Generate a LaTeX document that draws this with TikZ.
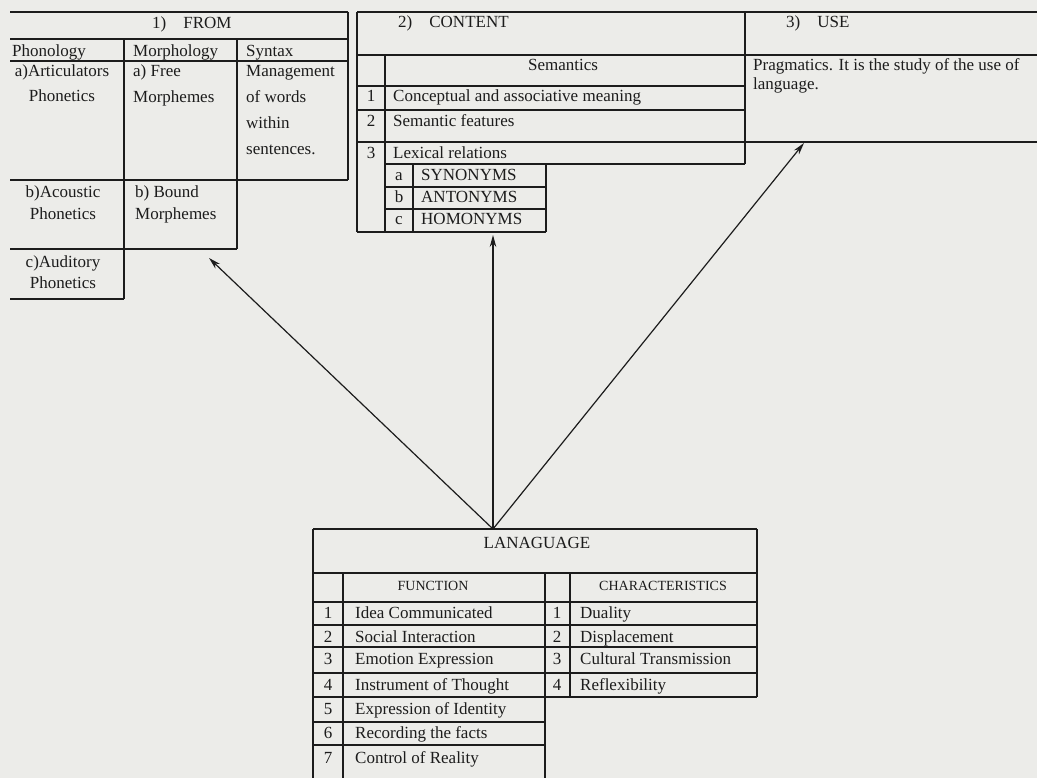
\documentclass[tikz,border=0pt]{standalone}
\usepackage{fontspec}
\setmainfont{Liberation Serif}
\usetikzlibrary{arrows.meta}
\definecolor{paper}{RGB}{236,236,233}
\definecolor{ink}{RGB}{28,28,28}
\begin{document}
\begin{tikzpicture}[x=1pt,y=-1pt,
  rule/.style={draw=ink, line width=1.2pt},
  lsk/.style={font=\fontsize{17}{#1}\selectfont},
  lsk/.default=20,
  txt/.style={inner sep=0pt, anchor=base west, text=ink, lsk, align=left},
  ctxt/.style={inner sep=0pt, anchor=base, text=ink, lsk, align=center},
  small/.style={inner sep=0pt, anchor=base, text=ink, font=\fontsize{14}{16}\selectfont},
  link/.style={draw=ink, line width=1.2pt, -{Stealth[length=12pt,width=6.5pt]}},
]
\fill[paper] (0,0) rectangle (1037,778);
\useasboundingbox (0,0) rectangle (1037,778);

% ---------------- 1) FROM table ----------------
\draw[rule] (10,12) -- (348,12);
\draw[rule] (10,39) -- (348,39);
\draw[rule] (10,61) -- (348,61);
\draw[rule] (10,180) -- (348,180);
\draw[rule] (10,249) -- (237,249);
\draw[rule] (10,299) -- (124,299);
\draw[rule] (348,12) -- (348,180);
\draw[rule] (237,39) -- (237,249);
\draw[rule] (124,39) -- (124,299);

% (multi-line nodes: the base anchor is the baseline of the last line)
\node[txt] (fromT) at (152,29) {1)\quad FROM};
\node[txt] (phon) at (12,57) {Phonology};
\node[txt] (morph) at (133,57) {Morphology};
\node[txt] (synt) at (246,57) {Syntax};
\node[ctxt, lsk=25] (artic) at (62,102) {a)Articulators\\Phonetics};
\node[txt, lsk=26] (free) at (133,103) {a) Free\\Morphemes};
\node[txt, lsk=26] (manage) at (246,155) {Management\\of words\\within\\sentences.};
\node[ctxt, lsk=22] (acou) at (63,220) {b)Acoustic\\Phonetics};
\node[txt, lsk=22] (bound) at (135,220) {b) Bound\\Morphemes};
\node[ctxt, lsk=21] (audi) at (63,289) {c)Auditory\\Phonetics};

% ---------------- 2) CONTENT table ----------------
\draw[rule] (357,12) -- (1037,12);
\draw[rule] (357,55) -- (1037,55);
\draw[rule] (357,86) -- (745,86);
\draw[rule] (357,110) -- (745,110);
\draw[rule] (357,142) -- (1037,142);
\draw[rule] (385,164) -- (745,164);
\draw[rule] (357,12) -- (357,232);
\draw[rule] (745,12) -- (745,164);
\draw[rule] (385,55) -- (385,232);
\draw[rule] (413,164) -- (413,232);
\draw[rule] (546,164) -- (546,232);
\draw[rule] (385,187) -- (546,187);
\draw[rule] (385,209) -- (546,209);
\draw[rule] (357,232) -- (546,232);

\node[txt] (contT) at (398,28) {2)\quad CONTENT};
\node[ctxt] (sem) at (563,71) {Semantics};
\node[ctxt] (n1) at (371,102) {1};
\node[ctxt] (n2) at (371,127) {2};
\node[ctxt] (n3) at (371,159) {3};
\node[txt] (c1) at (393,102) {Conceptual and associative meaning};
\node[txt] (c2) at (393,127) {Semantic features};
\node[txt] (c3) at (393,159) {Lexical relations};
\node[ctxt] (la) at (399,181) {a};
\node[ctxt] (lb) at (399,203) {b};
\node[ctxt] (lc) at (399,225) {c};
\node[txt] (syn) at (421,181) {SYNONYMS};
\node[txt] (ant) at (421,203) {ANTONYMS};
\node[txt] (hom) at (421,225) {HOMONYMS};

% ---------------- 3) USE ----------------
\node[txt] (useT) at (786,28) {3)\quad USE};
\node[txt, lsk=19] (prag) at (753,90) {Pragmatics. It is the study of the use of\\language.};

% ---------------- LANAGUAGE table ----------------
\draw[rule] (313,529) -- (757,529);
\draw[rule] (313,529) -- (313,778);
\draw[rule] (757,529) -- (757,697);
\draw[rule] (313,573) -- (757,573);
\draw[rule] (343,573) -- (343,778);
\draw[rule] (545,573) -- (545,778);
\draw[rule] (570,573) -- (570,697);
\foreach \yy in {602,625,647,673,697} \draw[rule] (313,\yy) -- (757,\yy);
\foreach \yy in {722,745} \draw[rule] (313,\yy) -- (545,\yy);

\node[ctxt] (lang) at (537,548) {LANAGUAGE};
\node[small] (func) at (433,590) {FUNCTION};
\node[small] (chars) at (663,590) {CHARACTERISTICS};

\node[ctxt] (f1n) at (328,618) {1};
\node[ctxt] (f2n) at (328,642) {2};
\node[ctxt] (f3n) at (328,664) {3};
\node[ctxt] (f4n) at (328,690) {4};
\node[ctxt] (f5n) at (328,714) {5};
\node[ctxt] (f6n) at (328,738) {6};
\node[ctxt] (f7n) at (328,763) {7};
\node[txt] (f1) at (355,618) {Idea Communicated};
\node[txt] (f2) at (355,642) {Social Interaction};
\node[txt] (f3) at (355,664) {Emotion Expression};
\node[txt] (f4) at (355,690) {Instrument of Thought};
\node[txt] (f5) at (355,714) {Expression of Identity};
\node[txt] (f6) at (355,738) {Recording the facts};
\node[txt] (f7) at (355,763) {Control of Reality};

\node[ctxt] (k1n) at (557,618) {1};
\node[ctxt] (k2n) at (557,642) {2};
\node[ctxt] (k3n) at (557,664) {3};
\node[ctxt] (k4n) at (557,690) {4};
\node[txt] (k1) at (580,618) {Duality};
\node[txt] (k2) at (580,642) {Displacement};
\node[txt] (k3) at (580,664) {Cultural Transmission};
\node[txt] (k4) at (580,690) {Reflexibility};

% ---------------- arrows ----------------
\coordinate (src) at (493,529);
\coordinate (tFrom) at (209,258);
\coordinate (tCont) at (493,235);
\coordinate (tUse) at (804,143);
\draw[link] (src) -- (tFrom);
\draw[link] (src) -- (tCont);
\draw[link] (src) -- (tUse);
\end{tikzpicture}
\end{document}
